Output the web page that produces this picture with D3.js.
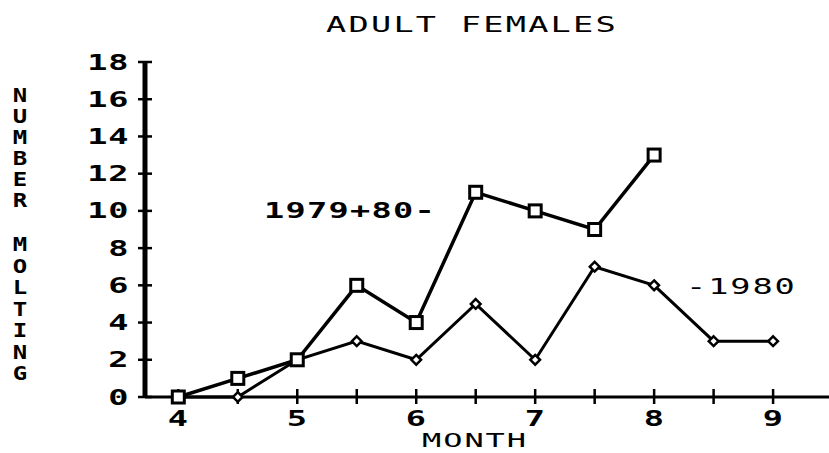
<!DOCTYPE html>
<html>
<head>
<meta charset="utf-8">
<script src="https://cdn.jsdelivr.net/npm/d3@7"></script>
<style>
  body { margin: 0; background: #fff; }
  svg { display: block; }
  text { font-family: "DejaVu Sans Mono", monospace; font-weight: bold; fill: #000; }
</style>
</head>
<body>
<div id="chart"></div>
<script>
// months on the x axis, half-month steps
var months = [4, 4.5, 5, 5.5, 6, 6.5, 7, 7.5, 8, 8.5, 9];
var bothYears = [0, 1, 2, 6, 4, 11, 10, 9, 13];   // 1979+80, squares
var year1980 = [0, 0, 2, 3, 2, 5, 2, 7, 6, 3, 3];  // 1980, diamonds
var yTicks = [0, 2, 4, 6, 8, 10, 12, 14, 16, 18];
var xLabels = [4, 5, 6, 7, 8, 9];

var width = 829,
  height = 453;

var svg = d3.select('#chart')
  .append('svg')
  .attr('width', width)
  .attr('height', height);

var x = d3.scaleLinear().domain([3.72, 9.47]).range([145, 829]),
  y = d3.scaleLinear().domain([0, 18]).range([397, 62]);

// wide dot-matrix looking text
function label(g, str, px, py, anchor, sx, spacing, size, weight) {
  return g.append('g')
    .attr('transform', 'translate(' + px + ',' + py + ') scale(' + (sx || 1.6) + ',1)')
    .append('text')
    .attr('text-anchor', anchor || 'start')
    .style('font-size', (size || 21) + 'px')
    .style('font-weight', weight || 'bold')
    .style('letter-spacing', (spacing == null ? 0.4 : spacing) + 'px')
    .text(str);
}

// axes
var axes = svg.append('g').style('stroke', '#000');

axes.append('line')
  .attr('x1', x.range()[0]).attr('x2', x.range()[1])
  .attr('y1', y(0)).attr('y2', y(0))
  .style('stroke-width', 3);

axes.append('line')
  .attr('x1', 145).attr('x2', 145)
  .attr('y1', y(18)).attr('y2', y(0))
  .style('stroke-width', 5);

axes.selectAll('.ytick')
  .data(yTicks)
  .enter()
  .append('line')
  .attr('x1', 138).attr('x2', 152)
  .attr('y1', function(d) { return y(d); })
  .attr('y2', function(d) { return y(d); })
  .style('stroke-width', 2.5);

axes.selectAll('.xtick')
  .data(months)
  .enter()
  .append('line')
  .attr('x1', function(d) { return x(d); })
  .attr('x2', function(d) { return x(d); })
  .attr('y1', y(0) - 8).attr('y2', y(0) + 7)
  .style('stroke-width', 2.5);

var texts = svg.append('g');

yTicks.forEach(function(d) {
  label(texts, String(d), 129, y(d) + 7.5, 'end');
});

xLabels.forEach(function(d) {
  label(texts, String(d), x(d), 426, 'middle');
});

label(texts, 'ADULT FEMALES', 472, 32, 'middle', 1.6, 1.4, 21, 'normal');
label(texts, 'MONTH', 475, 447, 'middle', 1.6, 1.2, 20, 'normal');
label(texts, '1979+80-', 264, 218, 'start', 1.6, 0.8);
label(texts, '-1980', 686, 294, 'start', 1.6, 1.2, 21, 'normal');

// vertical stacked axis title, upright letters
[['NUMBER', 83, -2.6], ['MOLTING', 232, -2]].forEach(function(w) {
  label(texts, w[0], 20, w[1], 'start', 1.2, w[2], 20)
    .style('writing-mode', 'vertical-rl')
    .style('text-orientation', 'upright');
});

// series lines
var line = d3.line()
  .x(function(d) { return x(d[0]); })
  .y(function(d) { return y(d[1]); });

var sqData = bothYears.map(function(v, i) { return [months[i], v]; }),
  diData = year1980.map(function(v, i) { return [months[i], v]; });

var plot = svg.append('g')
  .style('fill', 'none')
  .style('stroke', '#000');

plot.append('path')
  .attr('d', line(diData))
  .style('stroke-width', 3);

plot.append('path')
  .attr('d', line(sqData))
  .style('stroke-width', 3.5);

plot.selectAll('.dia')
  .data(diData)
  .enter()
  .append('path')
  .attr('d', d3.symbol(d3.symbolDiamond2, 60)())
  .attr('transform', function(d) { return 'translate(' + x(d[0]) + ',' + y(d[1]) + ')'; })
  .style('fill', '#fff')
  .style('stroke-width', 2.5);

plot.selectAll('.sq')
  .data(sqData)
  .enter()
  .append('rect')
  .attr('x', function(d) { return x(d[0]) - 6; })
  .attr('y', function(d) { return y(d[1]) - 6; })
  .attr('width', 12)
  .attr('height', 12)
  .style('fill', '#fff')
  .style('stroke-width', 3);
</script>
</body>
</html>
